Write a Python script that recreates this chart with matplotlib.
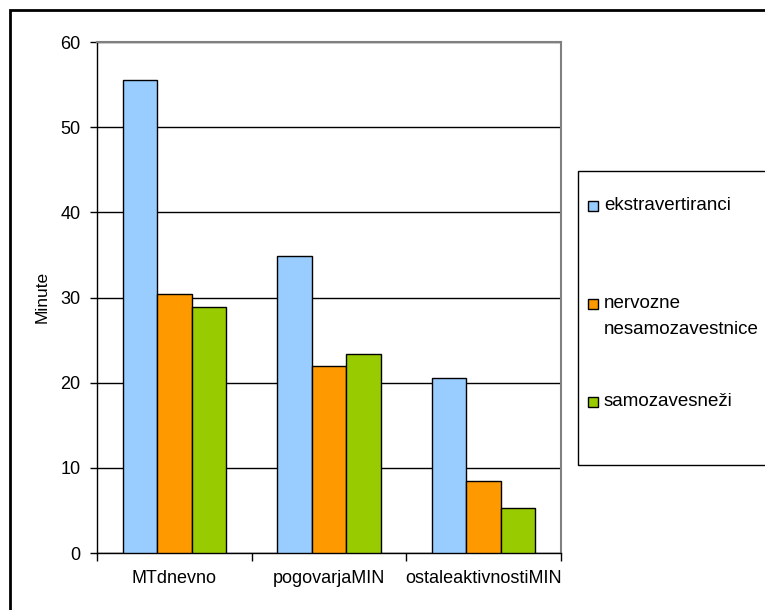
import matplotlib
matplotlib.use("Agg")
import matplotlib.pyplot as plt
import numpy as np
from matplotlib.patches import Rectangle
from matplotlib.ticker import FixedLocator, NullFormatter

plt.rcParams['font.family'] = ['Liberation Sans', 'DejaVu Sans']

categories = ["MTdnevno", "pogovarjaMIN", "ostaleaktivnostiMIN"]
series_names = ["ekstravertiranci", "nervozne\nnesamozavestnice", "samozavesneži"]
ekstravertiranci = [55.5, 34.9, 20.6]
nervozne = [30.4, 21.9, 8.5]
samozavesnezi = [28.9, 23.4, 5.3]
series_values = [ekstravertiranci, nervozne, samozavesnezi]
colors = ["#99CCFF", "#FF9900", "#99CC00"]
y_ticks = [0, 10, 20, 30, 40, 50, 60]

W, H = 765, 610
fig = plt.figure(figsize=(W / 100, H / 100), dpi=100)


def fx(px):
    return px / W


def fy(py):
    return 1 - py / H


ax = fig.add_axes([fx(97), fy(553), fx(561) - fx(97), fy(42) - fy(553)])

x = np.arange(len(categories))
bar_w = 1 / 4.5
for i, (vals, col) in enumerate(zip(series_values, colors)):
    ax.bar(x + (i - 1) * bar_w, vals, width=bar_w, color=col,
           edgecolor="black", linewidth=1.0, zorder=3)

ax.set_xlim(-0.5, len(categories) - 0.5)
ax.set_ylim(0, 60)
ax.set_yticks(y_ticks)
ax.yaxis.grid(True, color="black", linewidth=1.0, zorder=1)
ax.set_axisbelow(True)

ax.set_xticks(x)
ax.set_xticklabels(categories)
ax.xaxis.set_minor_locator(FixedLocator(np.arange(-0.5, len(categories), 1.0)))
ax.xaxis.set_minor_formatter(NullFormatter())
ax.tick_params(axis="x", which="major", length=0, pad=12, labelsize=13)
ax.tick_params(axis="x", which="minor", length=6, width=1, direction="out")
ax.tick_params(axis="y", length=5, width=1, direction="out", pad=7, labelsize=13)

for side in ("top", "right"):
    ax.spines[side].set_color("#808080")
    ax.spines[side].set_linewidth(1.5)
for side in ("left", "bottom"):
    ax.spines[side].set_color("black")
    ax.spines[side].set_linewidth(1.0)

fig.text(fx(42), fy(297), "Minute", rotation=90, ha="center", va="center",
         fontsize=12.5)

# legend box, running past the right edge of the figure
fig.patches.append(Rectangle((fx(578), fy(465)), fx(300), fy(171) - fy(465),
                             transform=fig.transFigure, fill=False,
                             edgecolor="black", linewidth=1.0))
legend_rows = [[206], [304, 330], [402]]
for name, col, rows in zip(series_names, colors, legend_rows):
    sq_y = rows[0]
    fig.patches.append(Rectangle((fx(588), fy(sq_y + 5)), fx(10),
                                 fy(sq_y - 5) - fy(sq_y + 5),
                                 transform=fig.transFigure, facecolor=col,
                                 edgecolor="black", linewidth=1.0))
    for line, yy in zip(name.split("\n"), rows):
        fig.text(fx(604), fy(yy), line, ha="left", va="center", fontsize=13.5)

# outer chart frame, open past the right and bottom edges
fig.patches.append(Rectangle((fx(10), fy(700)), fx(900), fy(10) - fy(700),
                             transform=fig.transFigure, fill=False,
                             edgecolor="black", linewidth=2.0))

fig.savefig("out.png", dpi=100)
